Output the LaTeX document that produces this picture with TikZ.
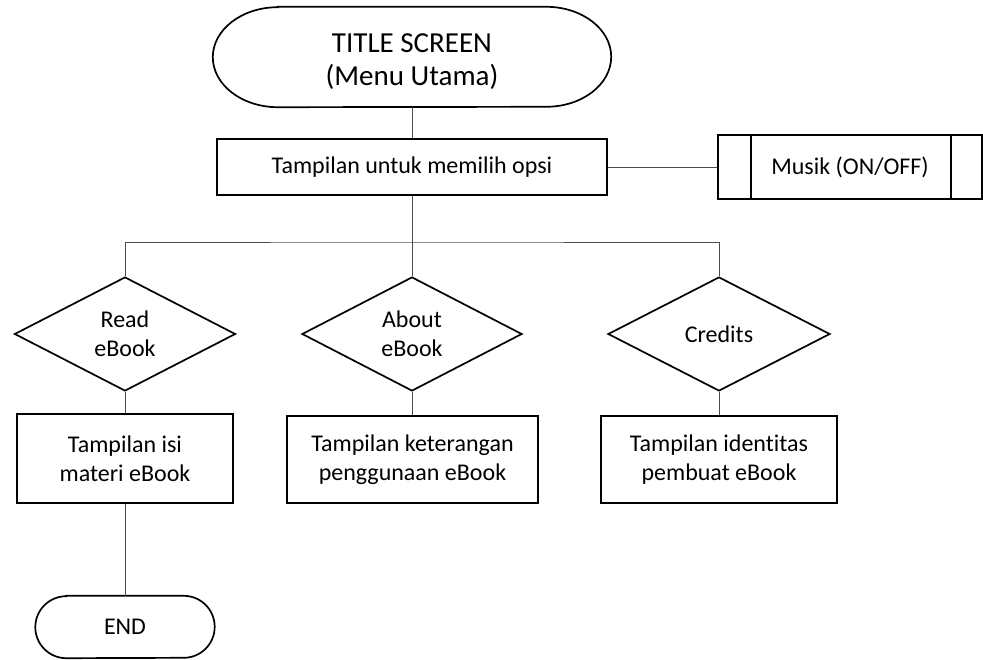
\documentclass[tikz,border=0pt]{standalone}
\usepackage{fontspec}
\setmainfont{Carlito}[Ligatures=NoCommon]
\usetikzlibrary{shapes.geometric}
\begin{document}
\begin{tikzpicture}[x=1pt,y=-1pt,
  shapeline/.style={draw=black,line width=1.7pt},
  procbox/.style={shapeline,rectangle,inner sep=0pt,align=center,font=\fontsize{24}{29}\selectfont},
  decision/.style={shapeline,diamond,inner sep=0pt,align=center,font=\fontsize{24}{29}\selectfont},
  termtext/.style={rectangle,inner sep=0pt,align=center},
  conn/.style={draw=black!70,line width=0.9pt}]
\useasboundingbox (0,0) rectangle (983,660);

% Title terminator
\node[termtext,minimum width=398pt,minimum height=100pt] (title) at (412,57) {};
\node[termtext,font=\fontsize{29}{33}\selectfont] (titletext) at (412,61.5) {TITLE SCREEN\\(Menu Utama)};
\draw[shapeline] ([xshift=65pt]title.north west) -- ([xshift=-65pt]title.north east)
  arc[start angle=90,end angle=-90,x radius=65pt,y radius=50pt]
  -- ([xshift=65pt]title.south west)
  arc[start angle=270,end angle=90,x radius=65pt,y radius=50pt] -- cycle;

% Options box
\node[procbox,minimum width=390pt,minimum height=56pt] (opts) at (412,167) {Tampilan untuk memilih opsi};

% Musik predefined process
\node[procbox,minimum width=264pt,minimum height=64pt] (musik) at (850,167) {Musik (ON/OFF)};
\draw[shapeline] ([xshift=34pt]musik.north west) -- ([xshift=34pt]musik.south west);
\draw[shapeline] ([xshift=-32pt]musik.north east) -- ([xshift=-32pt]musik.south east);

% Decisions
\node[decision,aspect=1.94,minimum width=221pt,minimum height=114pt] (d1) at (125,334) {Read\\eBook};
\node[decision,aspect=1.94,minimum width=220pt,minimum height=114pt] (d2) at (412,334) {About\\eBook};
\node[decision,aspect=1.94,minimum width=222pt,minimum height=114pt] (d3) at (719,334) {Credits};

% Result boxes
\node[procbox,minimum width=216pt,minimum height=89pt] (b1) at (125,458.5) {Tampilan isi\\materi eBook};
\node[procbox,minimum width=251pt,minimum height=87pt] (b2) at (412.5,459.5) {Tampilan keterangan\\penggunaan eBook};
\node[procbox,minimum width=236pt,minimum height=87pt] (b3) at (719,459.5) {Tampilan identitas\\pembuat eBook};

% END terminator
\node[termtext,minimum width=179pt,minimum height=62pt,font=\fontsize{24}{29}\selectfont] (endn) at (125,627) {END};
\draw[shapeline] ([xshift=31pt]endn.north west) -- ([xshift=-31pt]endn.north east)
  arc[start angle=90,end angle=-90,radius=31pt]
  -- ([xshift=31pt]endn.south west)
  arc[start angle=270,end angle=90,radius=31pt] -- cycle;

% Connectors
\coordinate (j) at (412,242);
\draw[conn] (title.south) -- (opts.north);
\draw[conn] (opts.east) -- (musik.west);
\draw[conn] (opts.south) -- (j);
\draw[conn] (d1.north) |- (j) -| (d3.north);
\draw[conn] (j) -- (d2.north);
\draw[conn] (d1.south) -- (b1.north);
\draw[conn] (d2.south) -- (d2.south |- b2.north);
\draw[conn] (d3.south) -- (b3.north);
\draw[conn] (b1.south) -- (endn.north);
\end{tikzpicture}
\end{document}
